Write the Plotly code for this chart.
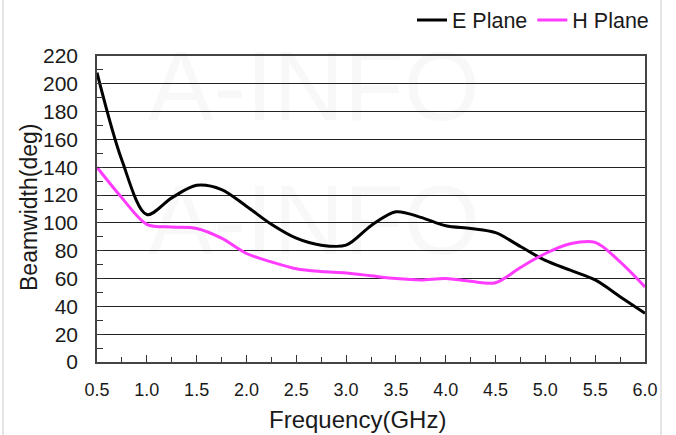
import plotly.graph_objects as go

freq = [0.5, 0.75, 1.0, 1.25, 1.5, 1.75, 2.0, 2.25, 2.5, 2.75, 3.0, 3.25, 3.5,
        3.75, 4.0, 4.25, 4.5, 4.75, 5.0, 5.25, 5.5, 5.75, 6.0]
e_plane = [208, 145, 106, 118, 127, 124, 112, 99, 89, 84, 84, 98, 108,
           104, 98, 96, 93, 83, 73, 66, 59, 47, 35]
h_plane = [140, 118, 99, 97, 96, 89, 78, 72, 67, 65, 64, 62, 60,
           59, 60, 58, 57, 68, 78, 85, 86, 72, 54]
x_ticks = [0.5, 1.0, 1.5, 2.0, 2.5, 3.0, 3.5, 4.0, 4.5, 5.0, 5.5, 6.0]
x_labels = ["0.5", "1.0", "1.5", "2.0", "2.5", "3.0", "3.5", "4.0", "4.5", "5.0", "5.5", "6.0"]
y_ticks = list(range(0, 221, 20))
watermark = "A-INFO"
x_title = "Frequency(GHz)"
y_title = "Beamwidth(deg)"

FONT = "Liberation Sans, Arial, sans-serif"
W, H = 676, 435
L, R, T, B = 97, 31, 56, 73
PW, PH = W - L - R, H - T - B


def px(x):
    return (x - L) / PW


def py(y):
    return (H - B - y) / PH


fig = go.Figure()
fig.add_trace(go.Scatter(x=freq, y=e_plane, name="E Plane", mode="lines",
                         line=dict(color="black", width=3, shape="spline", smoothing=0.9)))
fig.add_trace(go.Scatter(x=freq, y=h_plane, name="H Plane", mode="lines",
                         line=dict(color="#FF3CFF", width=3, shape="spline", smoothing=0.9)))

# faint watermark rows
for yc in [86, 220]:
    fig.add_annotation(text=watermark, xref="paper", yref="paper", x=px(314), y=py(yc),
                       xanchor="center", yanchor="middle", showarrow=False,
                       font=dict(family=FONT, size=98, color="rgba(0,0,0,0.028)"))

# axis titles
fig.add_annotation(text=x_title, xref="paper", yref="paper", x=px(357), y=py(419),
                   xanchor="center", yanchor="middle", showarrow=False,
                   font=dict(family=FONT, size=24, color="#1a1a1a"))
fig.add_annotation(text=y_title, xref="paper", yref="paper", x=px(29), y=py(208),
                   xanchor="center", yanchor="middle", showarrow=False, textangle=-90,
                   font=dict(family=FONT, size=23, color="#1a1a1a"))

# outer light frame (left and right edges)
for xe in [3, 661]:
    fig.add_shape(type="line", xref="paper", yref="paper", x0=px(xe), x1=px(xe),
                  y0=py(440), y1=py(-5),
                  line=dict(color="#dcdcdc", width=1.5), layer="below")

fig.update_layout(
    width=W, height=H,
    margin=dict(l=L, r=R, t=T, b=B, autoexpand=False),
    paper_bgcolor="white", plot_bgcolor="white",
    font=dict(family=FONT, size=18, color="#1a1a1a"),
    showlegend=True,
    legend=dict(orientation="h", x=px(654), xanchor="right", y=py(20), yanchor="middle",
                font=dict(size=21.5), bgcolor="rgba(0,0,0,0)", itemwidth=30,
                tracegroupgap=0),
    xaxis=dict(range=[0.5, 6.0], tickvals=x_ticks, ticktext=x_labels,
               ticks="inside", ticklen=7, tickcolor="#333", tickwidth=1,
               minor=dict(dtick=0.25, tick0=0.5, ticks="inside", ticklen=5,
                          tickcolor="#333", showgrid=False),
               showline=True, linecolor="#444", linewidth=1.5, mirror=True,
               showgrid=False, zeroline=False, automargin=False,
               ticklabelstandoff=11, tickfont=dict(size=18)),
    yaxis=dict(range=[0, 220], tickvals=y_ticks,
               ticks="inside", ticklen=0, tickcolor="#333",
               minor=dict(dtick=10, tick0=0, ticks="inside", ticklen=6,
                          tickcolor="#333", showgrid=False),
               showline=True, linecolor="#444", linewidth=1.5, mirror=True,
               showgrid=True, gridcolor="#222", gridwidth=1.3, zeroline=False,
               automargin=False, ticklabelstandoff=13, tickfont=dict(size=21)),
)

fig.write_html("out.html", config={"displayModeBar": False},
               post_script="document.body.style.margin='0';")
